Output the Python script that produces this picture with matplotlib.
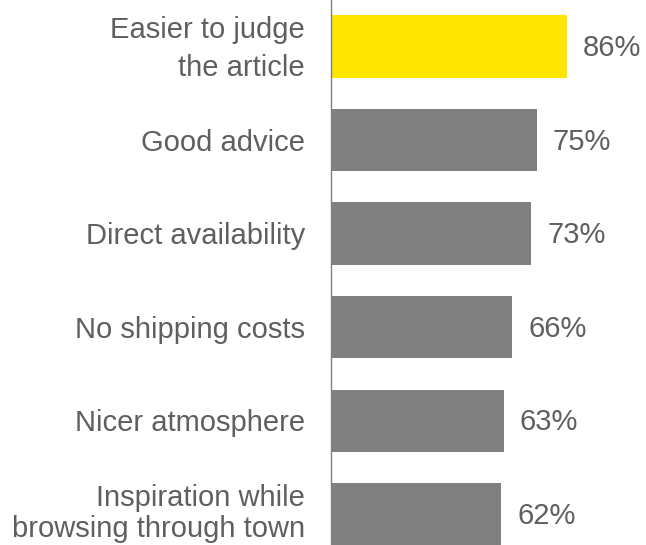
import matplotlib
matplotlib.use("Agg")
import matplotlib.pyplot as plt

# reasons for buying in store, share of respondents (%)
categories = [
    "Easier to judge\nthe article",
    "Good advice",
    "Direct availability",
    "No shipping costs",
    "Nicer atmosphere",
    "Inspiration while\nbrowsing through town",
]
values = [86, 75, 73, 66, 63, 62]
highlight = 0

YELLOW = "#FFE600"
GREY = "#808080"
TEXT = "#5f5f5f"

plt.rcParams["font.family"] = ["Liberation Sans", "DejaVu Sans"]

fig = plt.figure(figsize=(6.46, 5.45), dpi=100)
ax = fig.add_axes([331 / 646, 0, 315 / 646, 1])

colors = [YELLOW if i == highlight else GREY for i in range(len(values))]
pos = list(range(len(values)))
ax.barh(pos, values, height=0.665, color=colors, zorder=2)

for p, v in zip(pos, values):
    ax.text(v + 5.8, p + 0.02, f"{v}%", va="center", ha="left", fontsize=21, color=TEXT)

# category labels left of the axis line; wrapped ones get their own spacing
spacing = {0: 1.45, len(categories) - 1: 1.15}
shift = {len(categories) - 1: -0.01}
for p, name in zip(pos, categories):
    ax.text(-26 / 315, p + shift.get(p, 0.03), name, transform=ax.get_yaxis_transform(),
            ha="right", va="center", multialignment="right",
            fontsize=21, color=TEXT, linespacing=spacing.get(p, 1.2))

ax.set_xlim(0, 315 / 2.744)
ax.set_ylim(5.33, -0.497)
ax.set_yticks([])
ax.set_xticks([])

for s in ["top", "right", "bottom"]:
    ax.spines[s].set_visible(False)
ax.spines["left"].set_color("#7f7f7f")
ax.spines["left"].set_linewidth(1.0)
ax.spines["left"].set_zorder(3)

fig.savefig("out.png", dpi=100)
